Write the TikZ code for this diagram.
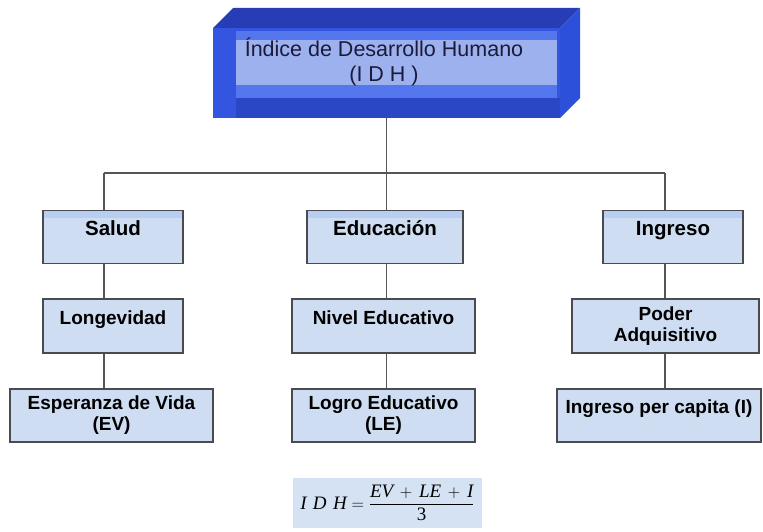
\documentclass[tikz,border=0pt]{standalone}
\usepackage{fontspec}
\setmainfont{Liberation Serif}
\setsansfont{Liberation Sans}
\usepackage{amsmath}
\usepackage{tikz}

\definecolor{cajaazul}{HTML}{CFDDF3}
\definecolor{franjaazul}{HTML}{B7CEF0}
\definecolor{bordegris}{HTML}{4A4A50}
\definecolor{lineagris}{HTML}{555558}
\definecolor{techoazul}{HTML}{273DB6}
\definecolor{ladoazul}{HTML}{2D50DA}
\definecolor{frenteazul}{HTML}{3355E0}
\definecolor{bandaazul}{HTML}{5577EE}
\definecolor{claroazul}{HTML}{9EB1EF}
\definecolor{bajoazul}{HTML}{2A47C6}
\definecolor{formulaazul}{HTML}{D4E2F4}
\definecolor{tituloazul}{HTML}{1A1A3A}

\tikzset{
  caja/.style={draw=bordegris, fill=cajaazul, line width=1.2pt, inner sep=0pt,
    align=center, minimum height=53pt,
    font=\sffamily\bfseries\fontsize{19}{21}\selectfont},
  fila1/.style={font=\sffamily\bfseries\fontsize{20.5}{23}\selectfont,
    path picture={\fill[franjaazul] (path picture bounding box.north west)
      rectangle ([yshift=-7pt]path picture bounding box.north east);}},
  arriba/.style={text height=14pt, text depth=18pt},
  linea/.style={draw=lineagris, line width=1.2pt},
}

\begin{document}
\begin{tikzpicture}[x=1pt,y=-1pt]
  \useasboundingbox (0,0) rectangle (763,532);

  % top box, drawn as a block
  \fill[techoazul] (213,28) -- (233,8) -- (580,8) -- (560,28) -- cycle;
  \fill[ladoazul] (560,28) -- (580,8) -- (580,98) -- (560,118) -- cycle;
  \node[fill=frenteazul, minimum width=347pt, minimum height=90pt, inner sep=0pt]
    (idh) at (386.5,73) {};
  \fill[bajoazul] (236,98) rectangle (560,118);
  \fill[bandaazul] (236,31) rectangle (557,98);
  \fill[claroazul] (236,40) rectangle (557,85);
  \node[at={(384,62)}, align=center, text=tituloazul,
    font=\sffamily\fontsize{21.5}{25}\selectfont] (titulo)
    {Índice de Desarrollo Humano\\(I D H )};

  % first row
  \node[caja, fila1, arriba, minimum width=140pt] (salud) at (113,237) {Salud};
  \node[caja, fila1, arriba, minimum width=156pt] (educ) at (385,237) {Educación};
  \node[caja, fila1, arriba, minimum width=140pt] (ingr) at (673,237) {Ingreso};

  % second row
  \node[caja, arriba, minimum width=140pt, minimum height=54pt] (longev) at (113,326) {Longevidad};
  \node[caja, arriba, minimum width=183pt, minimum height=54pt] (nivel) at (383.5,326) {Nivel Educativo};
  \node[caja, minimum width=187pt, minimum height=54pt] (poder) at (665.5,326) {Poder\\Adquisitivo};

  % third row
  \node[caja, minimum width=203pt] (esper) at (111.5,415.5) {Esperanza de Vida\\(EV)};
  \node[caja, minimum width=183pt] (logro) at (383.5,415.5) {Logro Educativo\\(LE)};
  \node[caja, arriba, minimum width=204pt] (ipc) at (659,415.5) {Ingreso per capita (I)};

  % connectors
  \coordinate (izq) at (104,173);
  \coordinate (der) at (665,173);
  \draw[linea] (idh.south) -- (idh.south |- izq) coordinate (bus);
  \draw[linea] (izq) -- (der);
  \draw[linea] (izq) -- (izq |- salud.north);
  \draw[linea] (izq |- salud.south) -- (izq |- longev.north);
  \draw[linea] (izq |- longev.south) -- (izq |- esper.north);
  \draw[linea] (bus) -- (bus |- educ.north);
  \draw[linea] (bus |- educ.south) -- (bus |- nivel.north);
  \draw[linea] (bus |- nivel.south) -- (bus |- logro.north);
  \draw[linea] (der) -- (der |- ingr.north);
  \draw[linea] (der |- ingr.south) -- (der |- poder.north);
  \draw[linea] (der |- poder.south) -- (der |- ipc.north);

  % formula
  \node[fill=formulaazul, minimum width=189pt, minimum height=50pt, inner sep=0pt,
    font=\fontsize{19}{22}\selectfont] (formula) at (387.5,503)
    {$\displaystyle \textit{I\,\,D\,\,H} = \frac{\textit{EV}\,+\,\textit{LE}\,+\,\textit{I}}{\textrm{3}}$};
\end{tikzpicture}
\end{document}
